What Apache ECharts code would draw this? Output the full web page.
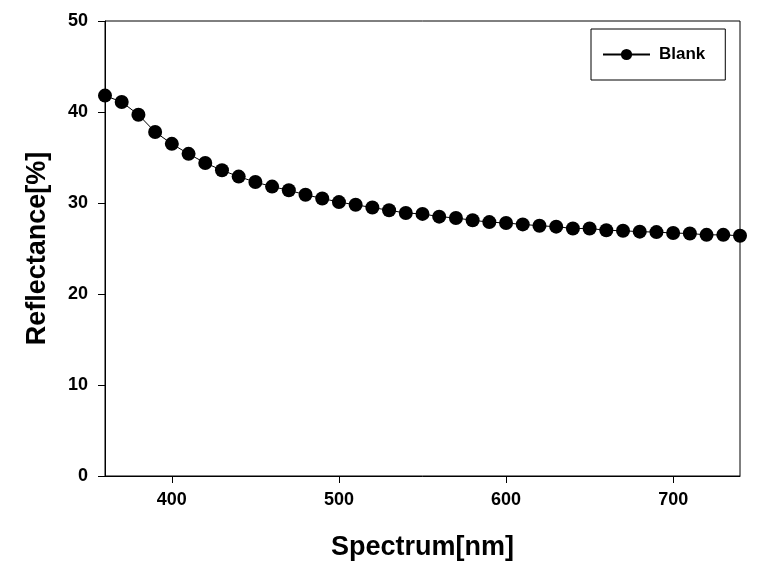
<!DOCTYPE html>
<html>
<head>
<meta charset="utf-8">
<script src="https://cdn.jsdelivr.net/npm/echarts@6/dist/echarts.min.js"></script>
<style>html,body{margin:0;padding:0;background:#fff;}#c{width:759px;height:577px;}</style>
</head>
<body>
<div id="c"></div>
<script>
const wavelengths = [360,370,380,390,400,410,420,430,440,450,460,470,480,490,500,510,520,530,540,550,560,570,580,590,600,610,620,630,640,650,660,670,680,690,700,710,720,730,740];
const blank = [41.8,41.1,39.7,37.8,36.5,35.4,34.4,33.6,32.9,32.3,31.8,31.4,30.9,30.5,30.1,29.8,29.5,29.2,28.9,28.8,28.5,28.35,28.1,27.9,27.8,27.65,27.5,27.4,27.2,27.2,27.0,26.95,26.85,26.8,26.7,26.65,26.5,26.5,26.4];
const xTicks = [400, 500, 600, 700];
const yTicks = [0, 10, 20, 30, 40, 50];
const seriesName = 'Blank';
const xTitle = 'Spectrum[nm]';
const yTitle = 'Reflectance[%]';

const chart = echarts.init(document.getElementById('c'), null, {renderer: 'canvas'});
const font = 'Liberation Sans, Arial, sans-serif';
chart.setOption({
  animation: false,
  backgroundColor: '#fff',
  grid: {left: 105, right: 19, top: 21, bottom: 101, show: true, borderColor: '#000', borderWidth: 1},
  legend: {
    data: [seriesName],
    left: 591, top: 29, width: 134, height: 50,
    orient: 'vertical',
    borderColor: '#000', borderWidth: 1, borderRadius: 0,
    padding: [17, 20, 17, 11],
    itemWidth: 47, itemHeight: 14,
    textStyle: {fontFamily: font, fontWeight: 'bold', fontSize: 17, color: '#000', padding: [0,0,0,4]}
  },
  xAxis: {
    type: 'value', min: 360, max: 740,
    name: xTitle, nameLocation: 'middle', nameGap: 58,
    nameTextStyle: {fontFamily: font, fontWeight: 'bold', fontSize: 27, color: '#000'},
    axisLine: {onZero: false, lineStyle: {color: '#000', width: 1}},
    axisTick: {show: true, inside: false, length: 7, lineStyle: {color: '#000'}, customValues: xTicks},
    axisLabel: {fontFamily: font, fontWeight: 'bold', fontSize: 18, color: '#000', margin: 15, customValues: xTicks},
    splitLine: {show: false}
  },
  yAxis: {
    type: 'value', min: 0, max: 50, interval: 10,
    name: yTitle, nameLocation: 'middle', nameGap: 54,
    nameTextStyle: {fontFamily: font, fontWeight: 'bold', fontSize: 27, color: '#000'},
    axisLine: {onZero: false, lineStyle: {color: '#000', width: 1}},
    axisTick: {show: true, inside: false, length: 7, lineStyle: {color: '#000'}, customValues: yTicks},
    axisLabel: {fontFamily: font, fontWeight: 'bold', fontSize: 18, color: '#000', margin: 17, customValues: yTicks},
    splitLine: {show: false}
  },
  series: [{
    name: seriesName,
    type: 'line',
    data: wavelengths.map((w, i) => [w, blank[i]]),
    symbol: 'circle', symbolSize: 14,
    lineStyle: {color: '#000', width: 1},
    itemStyle: {color: '#000'},
    clip: false
  }]
});
</script>
</body>
</html>
